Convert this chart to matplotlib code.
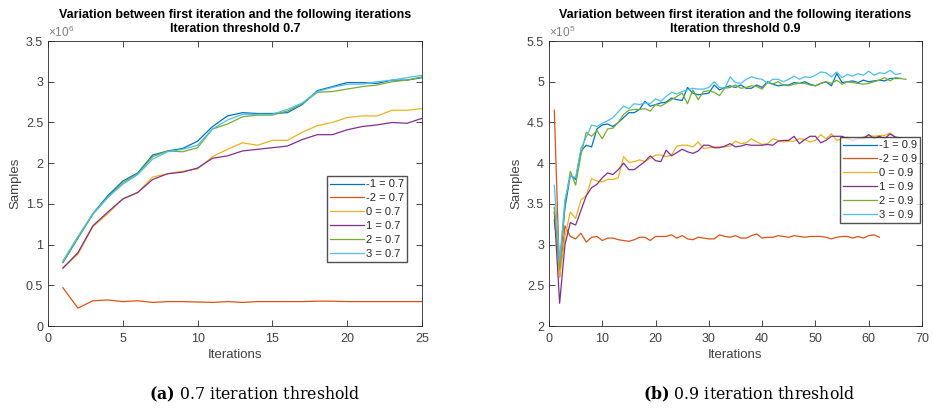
import numpy as np
import matplotlib
matplotlib.use("Agg")
import matplotlib.pyplot as plt
from matplotlib.ticker import FuncFormatter

plt.rcParams['font.family'] = ['Liberation Sans', 'DejaVu Sans']
plt.rcParams['mathtext.fontset'] = 'custom'
plt.rcParams['mathtext.rm'] = 'Liberation Sans'
plt.rcParams['mathtext.bf'] = 'DejaVu Serif:bold'

# legend labels / series keys
keys = ["-1", "-2", "0", "1", "2", "3"]
colors = ["#0072BD", "#D95319", "#EDB120", "#7E2F8E", "#77AC30", "#4DBEEE"]

# threshold 0.7 (values x 1e6), iterations 1..25
s07_m1 = [0.78, 1.08, 1.38, 1.60, 1.78, 1.88, 2.10, 2.15, 2.18, 2.27, 2.45, 2.58, 2.62,
          2.61, 2.61, 2.62, 2.72, 2.89, 2.94, 2.99, 2.99, 2.98, 3.02, 3.02, 3.05]
s07_m2 = [0.47, 0.22, 0.31, 0.32, 0.30, 0.31, 0.29, 0.30, 0.30, 0.295, 0.29, 0.30, 0.29,
          0.30, 0.30, 0.30, 0.30, 0.305, 0.305, 0.30, 0.30, 0.30, 0.30, 0.30, 0.30]
s07_0 = [0.72, 0.88, 1.22, 1.38, 1.56, 1.64, 1.83, 1.87, 1.90, 1.93, 2.08, 2.17, 2.25,
         2.22, 2.28, 2.28, 2.38, 2.46, 2.50, 2.56, 2.58, 2.58, 2.65, 2.65, 2.67]
s07_1 = [0.71, 0.90, 1.23, 1.40, 1.56, 1.64, 1.80, 1.87, 1.89, 1.94, 2.06, 2.09, 2.15,
         2.17, 2.19, 2.21, 2.29, 2.35, 2.35, 2.41, 2.45, 2.47, 2.50, 2.49, 2.55]
s07_2 = [0.78, 1.08, 1.37, 1.58, 1.76, 1.87, 2.08, 2.15, 2.14, 2.19, 2.42, 2.48, 2.57,
         2.59, 2.59, 2.64, 2.73, 2.87, 2.88, 2.91, 2.94, 2.96, 3.00, 3.02, 3.06]
s07_3 = [0.80, 1.10, 1.38, 1.58, 1.74, 1.86, 2.05, 2.14, 2.17, 2.22, 2.42, 2.53, 2.60,
         2.60, 2.60, 2.66, 2.74, 2.88, 2.93, 2.97, 2.97, 3.00, 3.02, 3.05, 3.08]

# threshold 0.9 (values x 1e5)
s09_m1 = [3.30, 2.75, 3.45, 3.85, 3.80, 4.15, 4.22, 4.20, 4.42, 4.47, 4.48, 4.45, 4.50,
          4.56, 4.62, 4.62, 4.66, 4.76, 4.70, 4.72, 4.74, 4.75, 4.80, 4.78, 4.77, 4.93,
          4.86, 4.84, 4.85, 4.86, 4.96, 4.90, 4.93, 4.95, 4.93, 4.96, 4.92, 4.92, 4.96,
          4.93, 5.00, 4.97, 4.95, 4.96, 4.96, 4.99, 4.98, 5.00, 4.97, 4.95, 4.98, 5.00,
          4.95, 5.10, 4.99, 5.00, 5.01, 4.99, 5.02, 5.00, 5.01, 5.02, 5.01, 5.04, 5.04, 5.04]
s09_m2 = [4.65, 2.60, 3.23, 3.10, 3.07, 3.14, 3.03, 3.09, 3.10, 3.05, 3.08, 3.08, 3.06,
          3.05, 3.04, 3.06, 3.09, 3.09, 3.05, 3.10, 3.10, 3.10, 3.12, 3.08, 3.11, 3.07,
          3.06, 3.09, 3.08, 3.07, 3.07, 3.12, 3.10, 3.09, 3.11, 3.08, 3.08, 3.11, 3.13,
          3.08, 3.09, 3.09, 3.11, 3.10, 3.09, 3.11, 3.10, 3.09, 3.10, 3.10, 3.10, 3.09,
          3.07, 3.09, 3.10, 3.10, 3.08, 3.10, 3.08, 3.11, 3.12, 3.09]
s09_0 = [3.47, 2.60, 3.10, 3.40, 3.32, 3.55, 3.60, 3.81, 3.78, 3.77, 3.80, 3.80, 3.82,
         4.08, 4.01, 4.02, 4.04, 4.02, 4.06, 4.10, 4.10, 4.08, 4.10, 4.21, 4.22, 4.22,
         4.20, 4.26, 4.18, 4.19, 4.20, 4.20, 4.20, 4.21, 4.27, 4.24, 4.25, 4.30, 4.26,
         4.23, 4.24, 4.30, 4.28, 4.26, 4.27, 4.27, 4.30, 4.29, 4.26, 4.28, 4.35, 4.30,
         4.36, 4.28, 4.30, 4.32, 4.28, 4.30, 4.32, 4.34, 4.33, 4.34, 4.34, 4.37, 4.32, 4.30]
s09_1 = [3.40, 2.28, 3.00, 3.27, 3.24, 3.42, 3.60, 3.70, 3.74, 3.82, 3.88, 3.86, 3.92,
         4.00, 3.92, 3.92, 3.97, 4.02, 4.09, 4.03, 4.02, 4.16, 4.09, 4.13, 4.17, 4.14,
         4.12, 4.15, 4.22, 4.22, 4.19, 4.19, 4.21, 4.24, 4.20, 4.21, 4.23, 4.22, 4.22,
         4.22, 4.23, 4.22, 4.27, 4.28, 4.28, 4.33, 4.24, 4.29, 4.33, 4.33, 4.25, 4.28,
         4.33, 4.33, 4.33, 4.30, 4.28, 4.30, 4.30, 4.35, 4.30, 4.33, 4.30, 4.36, 4.32, 4.31]
s09_2 = [3.45, 2.70, 3.50, 3.90, 3.73, 4.10, 4.38, 4.33, 4.40, 4.30, 4.42, 4.43, 4.50,
         4.60, 4.65, 4.66, 4.66, 4.67, 4.64, 4.72, 4.70, 4.74, 4.78, 4.82, 4.86, 4.73,
         4.90, 4.78, 4.88, 4.89, 4.87, 4.83, 4.92, 4.93, 4.96, 4.92, 4.93, 4.95, 4.94,
         4.91, 4.99, 4.97, 5.00, 4.96, 4.95, 4.97, 4.98, 4.98, 4.96, 4.95, 4.98, 5.00,
         4.98, 5.02, 4.97, 5.00, 4.99, 4.98, 4.97, 4.98, 5.00, 5.02, 5.05, 5.01, 5.05,
         5.04, 5.03]
s09_3 = [3.73, 2.80, 3.55, 3.85, 3.82, 4.18, 4.32, 4.47, 4.45, 4.49, 4.52, 4.56, 4.63,
         4.70, 4.67, 4.73, 4.72, 4.74, 4.73, 4.79, 4.76, 4.82, 4.87, 4.85, 4.88, 4.90,
         4.92, 4.91, 4.91, 4.93, 5.00, 4.93, 4.92, 5.06, 4.99, 4.98, 5.03, 5.06, 5.04,
         5.03, 4.98, 5.03, 5.03, 5.00, 5.03, 5.07, 5.03, 5.06, 5.05, 5.08, 5.12, 5.11,
         5.06, 5.12, 5.05, 5.09, 5.07, 5.10, 5.08, 5.13, 5.08, 5.11, 5.10, 5.14, 5.09, 5.10]

series07 = [s07_m1, s07_m2, s07_0, s07_1, s07_2, s07_3]
series09 = [s09_m1, s09_m2, s09_0, s09_1, s09_2, s09_3]

axcol = "#262626"
txtcol = "#404040"


def style_axes(ax, xlim, ylim, yticks, xticks, scale, exponent):
    ax.set_xlim(xlim)
    ax.set_ylim(ylim)
    ax.set_xticks(xticks)
    ax.set_yticks(yticks)
    ax.yaxis.set_major_formatter(FuncFormatter(lambda v, p: f"{v / scale:g}"))
    ax.tick_params(direction='in', top=True, right=True, length=4, width=0.6,
                   labelsize=9, colors=axcol, labelcolor=txtcol)
    ax.tick_params(axis='x', pad=5)
    for sp in ax.spines.values():
        sp.set_color(axcol)
        sp.set_linewidth(0.6)
    ax.set_xlabel("Iterations", fontsize=9.5, color=txtcol, labelpad=3)
    ax.set_ylabel("Samples", fontsize=9.5, color=txtcol, labelpad=3)
    ax.text(0.0, 1.002, r"$\times10^{%d}$" % exponent, transform=ax.transAxes,
            ha='left', va='bottom', fontsize=8.5, color="#808080")


def draw_panel(ax, data, scale, thr):
    for k, vals, c in zip(keys, data, colors):
        x = np.arange(1, len(vals) + 1)
        ax.plot(x, np.array(vals) * scale, color=c, lw=0.9, label=f"{k} = {thr}")
    # two-line title, each line placed on its own
    ax.text(0.5, 1.072, "Variation between first iteration and the following iterations",
            transform=ax.transAxes, ha='center', va='bottom', fontsize=9, fontweight='bold')
    ax.text(0.5, 1.022, f"Iteration threshold {thr}",
            transform=ax.transAxes, ha='center', va='bottom', fontsize=9, fontweight='bold')


def add_legend(ax, anchor):
    leg = ax.legend(loc='upper left', bbox_to_anchor=anchor, fontsize=8,
                    fancybox=False, edgecolor=axcol, handlelength=3.0, borderpad=0.3,
                    labelspacing=0.35, handletextpad=0.2, borderaxespad=0)
    leg.get_frame().set_linewidth(1.0)
    for t in leg.get_texts():
        t.set_color(axcol)


fig = plt.figure(figsize=(9.33, 4.12), dpi=100)
ax1 = fig.add_axes([0.0514, 0.2087, 0.4009, 0.6917])
ax2 = fig.add_axes([0.5884, 0.2087, 0.3998, 0.6917])

draw_panel(ax1, series07, 1e6, 0.7)
style_axes(ax1, (0, 25), (0, 3.5e6), np.arange(0, 3.51e6, 0.5e6), np.arange(0, 26, 5), 1e6, 6)
add_legend(ax1, (0.746, 0.526))

draw_panel(ax2, series09, 1e5, 0.9)
style_axes(ax2, (0, 70), (2e5, 5.5e5), np.arange(2e5, 5.51e5, 0.5e5), np.arange(0, 71, 10), 1e5, 5)
add_legend(ax2, (0.780, 0.663))

# sub-figure captions
capfont = dict(fontsize=11.3, family=['DejaVu Serif'], va='center')
fig.text(0.273, 0.042, r"$\mathbf{(a)}$ 0.7 iteration threshold", ha='center', **capfont)
fig.text(0.803, 0.042, r"$\mathbf{(b)}$ 0.9 iteration threshold", ha='center', **capfont)

fig.savefig("out.png", dpi=100)
